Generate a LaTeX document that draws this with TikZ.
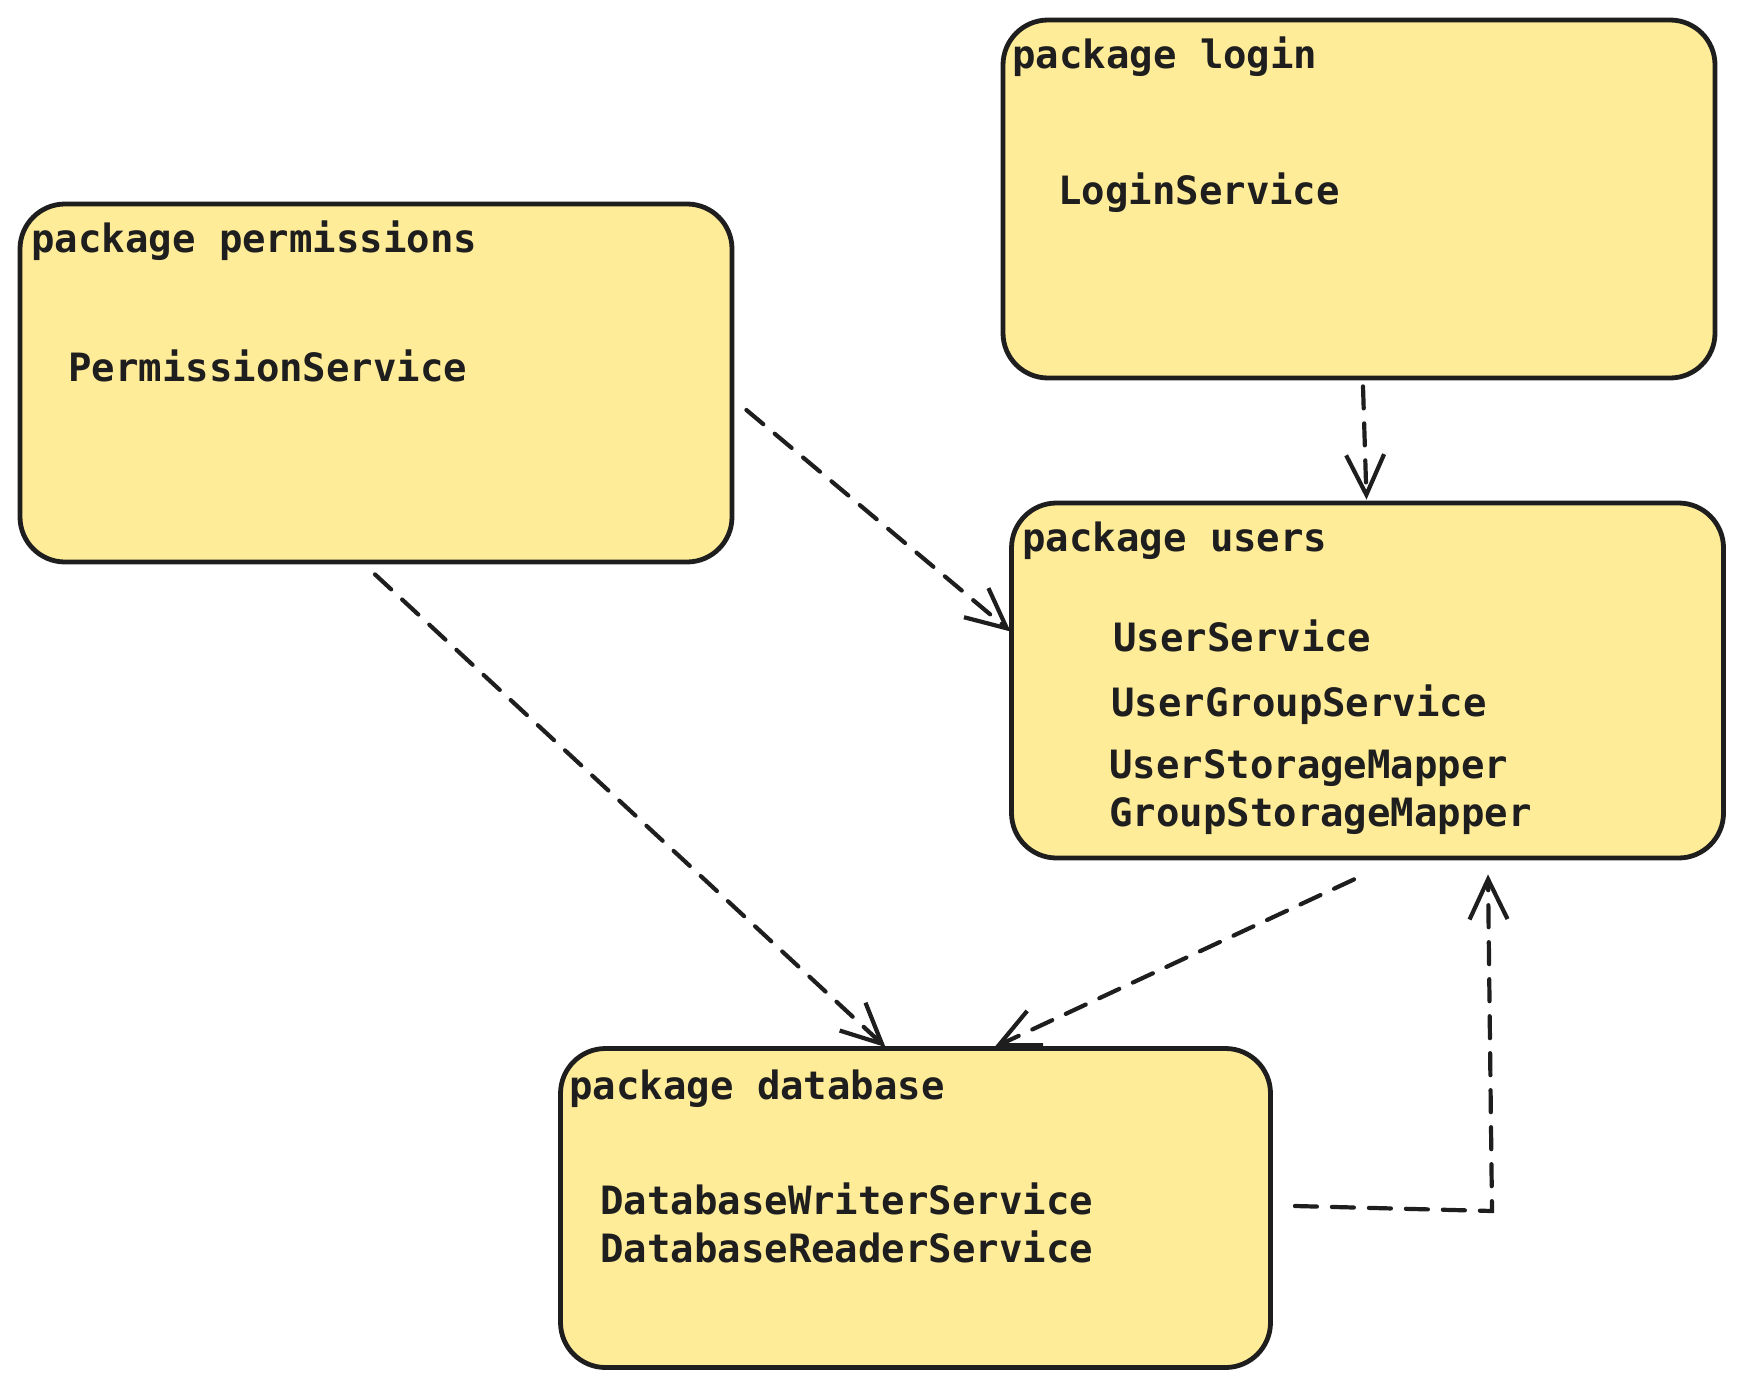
\documentclass[tikz,border=0pt]{standalone}
\usepackage{fontspec}
\setmonofont{DejaVu Sans Mono}
\usetikzlibrary{arrows.meta}
\definecolor{pkgfill}{HTML}{FFEC99}
\definecolor{ink}{HTML}{1E1E1E}
\tikzset{
  pkg/.style={draw=ink, fill=pkgfill, line width=4.8pt, rounded corners=45pt, inner sep=0pt},
  lbl/.style={anchor=west, inner sep=0pt, text=ink, font=\ttfamily\bfseries\fontsize{39}{45}\selectfont},
  dep/.style={draw=ink, line width=4.2pt, dash pattern=on 22pt off 15pt, line cap=round,
    -{Straight Barb[length=40pt, width=38pt, line width=4.2pt]}},
}
\begin{document}
\begin{tikzpicture}[x=1pt, y=-1pt]
\useasboundingbox (0,0) rectangle (1742,1389);
% boxes
\node[pkg, minimum width=712pt, minimum height=358pt] (perms) at (376,383) {};
\node[pkg, minimum width=712pt, minimum height=358pt] (login) at (1359,199) {};
\node[pkg, minimum width=712pt, minimum height=355pt] (users) at (1367.5,680.5) {};
\node[pkg, minimum width=710pt, minimum height=319pt] (db) at (915.5,1208) {};
% labels
\node[lbl] (tperms) at (31,241) {package permissions};
\node[lbl] (sperm) at (68,365.5) {PermissionService};
\node[lbl] (tlogin) at (1012,57) {package login};
\node[lbl] (slogin) at (1058,193) {LoginService};
\node[lbl] (tusers) at (1022,541) {package users};
\node[lbl] (suser) at (1113,635.5) {UserService};
\node[lbl] (sgroup) at (1111,705) {UserGroupService};
\node[lbl] (smap1) at (1109,768) {UserStorageMapper};
\node[lbl] (smap2) at (1109,816) {GroupStorageMapper};
\node[lbl] (tdb) at (569,1089) {package database};
\node[lbl] (sdbw) at (600,1199) {DatabaseWriterService};
\node[lbl] (sdbr) at (600,1247) {DatabaseReaderService};
% connectors
\draw[dep] ([xshift=4pt,yshift=-6pt]login.south) -- ([xshift=-1pt,yshift=1pt]users.north);
\draw[dep] ([xshift=12pt,yshift=-27pt]perms.east) -- ([xshift=1.5pt,yshift=49pt]users.west);
\draw[dep] ([xshift=-1pt,yshift=-10pt]perms.south) -- ([xshift=-30pt,yshift=-1pt]db.north);
\draw[dep] ([xshift=-13.5pt,yshift=-19pt]users.south) -- ([xshift=79pt,yshift=-1pt]db.north);
\coordinate (corner) at (1492,1211);
\draw[dep] ([xshift=22pt,yshift=2pt]db.east) -- (corner) -- ([xshift=120.5pt,yshift=-14pt]users.south);
\end{tikzpicture}
\end{document}
